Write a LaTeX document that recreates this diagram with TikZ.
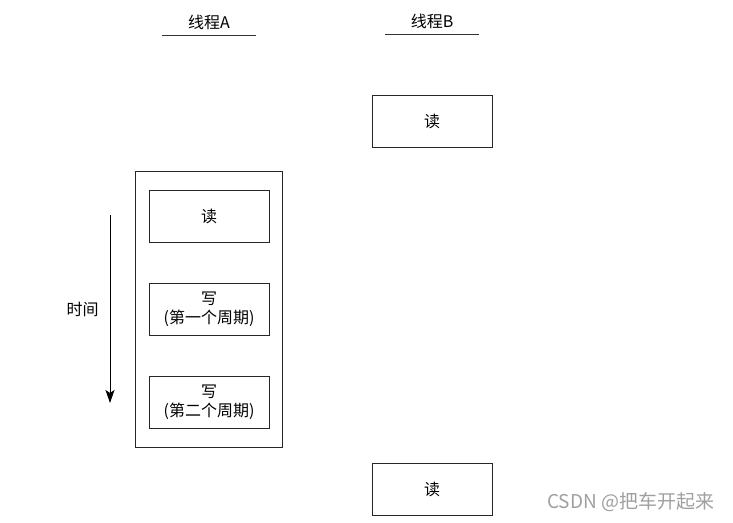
\documentclass[tikz,border=0pt]{standalone}
\usepackage{fontspec}
\setmainfont{Noto Sans CJK SC}
\usetikzlibrary{arrows.meta, positioning, fit}

\begin{document}
\begin{tikzpicture}[
    x=1pt, y=-1pt,
    font=\fontsize{16}{19}\selectfont,
    node distance=40pt,
    box/.style={draw=black!85, rectangle, minimum width=120pt, minimum height=52pt, align=center, line width=1pt},
    title/.style={inner sep=0pt},
    rule/.style={line width=1pt, draw=black!80},
    arrow/.style={-{Stealth[length=13pt,width=9pt,inset=3pt]}, line width=1pt}
]
\useasboundingbox (0,0) rectangle (733,522);
\node[title] (threadA) at (209,22) {线程A};
\node[title] (threadB) at (432,21) {线程B};
\coordinate (ruleA1) at (162,35);
\coordinate (ruleA2) at (256,35);
\coordinate (ruleB1) at (385,34);
\coordinate (ruleB2) at (479,34);
\draw[rule] (ruleA1) -- (ruleA2);
\draw[rule] (ruleB1) -- (ruleB2);
\node[box] (readB1) at (432,121) {读};
\node[box] (readB2) at (432,489) {读};
\node[box] (readA) at (209,216) {读};
\node[box, below=40pt of readA] (writeA1) {写\\(第一个周期)};
\node[box, below=40pt of writeA1] (writeA2) {写\\(第二个周期)};
\node[draw=black!85, line width=1pt, inner xsep=13pt, inner ysep=18.5pt, fit=(readA) (writeA2)] (threadAbox) {};
\coordinate (timeStart) at (110,215);
\coordinate (timeEnd) at (110,403);
\draw[arrow] (timeStart) -- node[left=11pt, inner sep=0pt] (timeLabel) {时间} (timeEnd);
\node[text=gray!75, font=\fontsize{19}{22}\selectfont, anchor=west, inner sep=0pt] (watermark) at (547,502) {CSDN @把车开起来};
\end{tikzpicture}
\end{document}
